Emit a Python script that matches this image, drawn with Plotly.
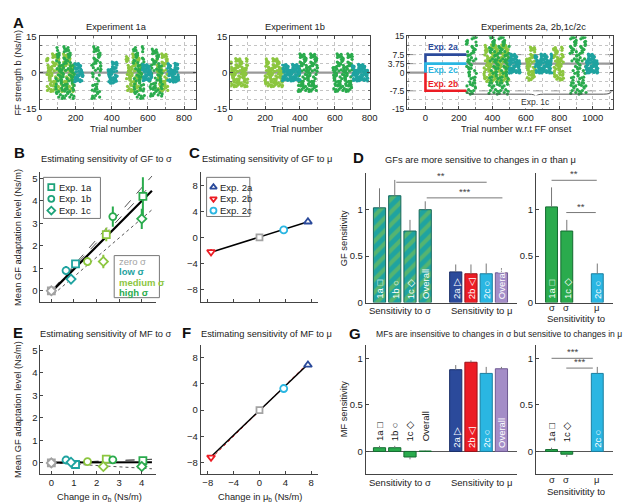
import plotly.graph_objects as go

W, H = 640, 503
FONT = "Arial, Liberation Sans, Helvetica, sans-serif"

GREEN = "#2aab4d"
LGREEN = "#8cc63f"
TEAL = "#1fa3a0"
GRAY = "#a3a3a3"
BLUE = "#2b4a9b"
RED = "#ec1c24"
CYAN = "#2ab6e2"
PURPLE = "#a48dc7"
LEVEL_COLOR = {"z": GRAY, "l": TEAL, "m": LGREEN, "h": GREEN}

# ---------------- Panel A: blocks of trials ----------------
NOISE = [0.62, -0.35, 0.91, -0.78, 0.13, -0.05, 0.47, -0.92, 0.28, -0.61, 0.84, -0.17, 0.55,
         -0.43, 0.07, -0.88, 0.36, 0.71, -0.26, -0.69, 0.95, -0.12, 0.19, -0.53, 0.66, -0.97,
         0.41, -0.31, 0.02, 0.79, -0.74, 0.24, -0.48, 0.88, -0.09, -0.58, 0.51, 0.15, -0.83,
         0.33, -0.22, 0.74, -0.66, 0.09, 0.58, -0.39, -0.95, 0.45, 0.27, -0.15, 0.82, -0.71,
         0.11, -0.45, 0.69, -0.28, 0.98, -0.62, 0.38, -0.02, -0.86]

A1_START = [40, 90, 195, 290, 380, 480, 520, 570, 610, 650, 710]
A1_END = [190, 195, 240, 340, 430, 560, 580, 620, 680, 710, 770]
A1_LEVEL = ["m", "h", "l", "h", "l", "m", "h", "l", "h", "m", "l"]
A1_HALF = [8, 11, 4, 11, 4.5, 8, 11, 3.5, 10, 8, 4]
A1_CENTER = 0

A2_START = [0, 200, 300, 390, 590, 700]
A2_END = [100, 300, 400, 500, 700, 790]
A2_LEVEL = ["m", "m", "l", "h", "h", "l"]
A2_HALF = [6, 6, 3.5, 8, 8, 3.5]
A2_CENTER = 0

A3_START = [245, 350, 380, 500, 605, 655, 765, 865, 960]
A3_END = [305, 500, 500, 565, 655, 755, 825, 960, 1030]
A3_LEVEL = ["h", "m", "h", "l", "m", "l", "m", "h", "l"]
A3_HALF = [13, 8, 13, 4, 7, 4, 7, 13, 4]
A3_CENTER = 3.75

A3_ONSET_X = [0, 245]
A3_EXP2A = 7.5
A3_EXP2C = 3.75
A3_EXP2B = -7.5

# ---------------- Panels B / E (sigma experiments) ----------------
LEVELS = ["z", "l", "m", "h"]
EXP1A_SIG = [0, 1.07, 2.43, 4.05]
EXP1A_GF = [0, 1.2, 2.5, 4.2]
EXP1A_GF_ERR = [0, 0.12, 0.3, 0.85]
EXP1A_MF = [0, -0.07, 0.17, 0.1]
EXP1B_SIG = [0, 0.65, 1.6, 2.72]
EXP1B_GF = [0, 0.9, 1.3, 3.3]
EXP1B_GF_ERR = [0, 0.2, 0.2, 0.45]
EXP1B_MF = [0, 0.13, 0.06, 0.14]
EXP1C_SIG = [0, 0.87, 2.3, 4.0]
EXP1C_GF = [0, 0.52, 1.3, 3.2]
EXP1C_GF_ERR = [0, 0.15, 0.3, 0.45]
EXP1C_MF = [0, 0.03, -0.16, -0.16]
MF_ERR = [0, 0.05, 0.06, 0.06]

B_FIT_X = [0.1, 4.45]
B_FIT_Y = [0.05, 4.45]
B_DASH1_Y = [0.1, 5.1]
B_DASH2_Y = [0.1, 4.75]
B_DOT_Y = [-0.15, 3.6]
E_FIT_Y = [0.02, 0.03]
E_DASH_Y = [0.0, 0.16]
E_DOT_Y = [0.0, -0.26]

# ---------------- Panels C / F (mu experiments) ----------------
EXP2_MU = [7.5, -7.5, 3.75]
EXP2_GF = [2.4, -2.25, 1.15]
EXP2_GF_ERR = [0.2, 0.45, 0.15]
EXP2_MF = [6.9, -7.2, 3.3]
EXP2_MF_ERR = [0.3, 0.35, 0.25]
C_FIT_X = [-7.5, 7.5]
C_FIT_Y = [-2.3, 2.4]
F_FIT_Y = [-7.1, 7.0]
F_RED_Y = [-7.4, 7.2]

# ---------------- Panels D / G (bar charts) ----------------
BAR_LABELS = ["1a", "1b", "1c", "Overall", "2a", "2b", "2c", "Overall"]
BAR_POS = [1, 2, 3, 4, 6, 7, 8, 9]
D1_VAL = [1.02, 1.15, 0.77, 1.0, 0.33, 0.31, 0.31, 0.32]
D1_ERR = [0.21, 0.17, 0.12, 0.09, 0.08, 0.10, 0.11, 0.05]
G1_VAL = [0.04, 0.04, -0.06, 0.004, 0.88, 0.96, 0.84, 0.89]
G1_ERR = [0.02, 0.02, 0.025, 0.005, 0.05, 0.02, 0.07, 0.02]
BAR2_LABELS = ["1a", "1c", "2c"]
BAR2_TICKS = ["σ", "σ", "μ"]
BAR2_POS = [1, 2, 4]
D2_VAL = [1.03, 0.77, 0.31]
D2_ERR = [0.21, 0.12, 0.11]
G2_VAL = [0.02, -0.03, 0.84]
G2_ERR = [0.02, 0.03, 0.07]

# ---------------- layout geometry (pixels) ----------------
P = {
    "A1": dict(x=(29, 188), y=(23, 97), xr=(0, 865), yr=(-15, 15)),
    "A2": dict(x=(223, 365), y=(23, 97), xr=(0, 800), yr=(-15, 15)),
    "A3": dict(x=(403, 613), y=(23, 97), xr=(-110, 1124), yr=(-15, 15)),
    "B": dict(x=(30, 148), y=(162, 294), xr=(-0.48, 4.65), yr=(-0.48, 5.26)),
    "C": dict(x=(193, 312), y=(162, 294), xr=(-9.1, 9.0), yr=(-9.9, 10.0)),
    "D1": dict(x=(361, 515), y=(163, 295), xr=(0.1, 10.03), yr=(0, 1.39)),
    "D2": dict(x=(534, 613), y=(163, 295), xr=(-0.03, 5.06), yr=(0, 1.39)),
    "E": dict(x=(30, 148), y=(338, 470), xr=(-0.48, 4.65), yr=(-0.48, 5.26)),
    "F": dict(x=(193, 312), y=(338, 470), xr=(-9.1, 9.0), yr=(-9.7, 10.0)),
    "G1": dict(x=(361, 515), y=(338, 470), xr=(0.1, 10.03), yr=(-0.24, 1.15)),
    "G2": dict(x=(534, 613), y=(338, 470), xr=(-0.03, 5.06), yr=(-0.24, 1.15)),
}
KEYS = list(P.keys())
AXN = {k: i + 1 for i, k in enumerate(KEYS)}


def xa(k):
    return "x" if AXN[k] == 1 else f"x{AXN[k]}"


def ya(k):
    return "y" if AXN[k] == 1 else f"y{AXN[k]}"


def to_data(k, px, py):
    p = P[k]
    x0, x1 = p["x"]
    y0, y1 = p["y"]
    dx = p["xr"][0] + (px - x0) / (x1 - x0) * (p["xr"][1] - p["xr"][0])
    dy = p["yr"][0] + (y1 - py) / (y1 - y0) * (p["yr"][1] - p["yr"][0])
    return dx, dy


fig = go.Figure()
annotations = []
shapes = []


def ann(text, px, py, size=9.5, color="#222", xanchor="center", yanchor="middle", angle=0, bg=None):
    d = dict(text=text, x=px / W, y=1 - py / H, xref="paper", yref="paper", showarrow=False,
             font=dict(size=size, color=color, family=FONT), xanchor=xanchor, yanchor=yanchor,
             textangle=angle)
    if bg:
        d["bgcolor"] = bg
    annotations.append(d)


def pline(x0, y0, x1, y1, color="#666", width=1, dash="solid"):
    shapes.append(dict(type="line", xref="paper", yref="paper", x0=x0 / W, x1=x1 / W,
                       y0=1 - y0 / H, y1=1 - y1 / H, line=dict(color=color, width=width, dash=dash)))


# ---------------- Panel A traces ----------------
def add_cloud(k, starts, ends, levels, halves, center, base_segments):
    for seg in base_segments:
        fig.add_trace(go.Scatter(x=seg[0], y=seg[1], mode="lines", line=dict(color="#999", width=2.2),
                                 xaxis=xa(k), yaxis=ya(k), hoverinfo="skip"))
    pts = {"l": ([], []), "m": ([], []), "h": ([], [])}
    for b, (s, e, lv, hw) in enumerate(zip(starts, ends, levels, halves)):
        for i, t in enumerate(range(s, e + 1)):
            pts[lv][0].append(t)
            pts[lv][1].append(center + hw * NOISE[(i * 17 + b * 23) % len(NOISE)])
    for lv in ["m", "h", "l"]:
        fig.add_trace(go.Scatter(x=pts[lv][0], y=pts[lv][1], mode="markers",
                                 marker=dict(size=3.2, color=LEVEL_COLOR[lv]),
                                 xaxis=xa(k), yaxis=ya(k), hoverinfo="skip"))


add_cloud("A1", A1_START, A1_END, A1_LEVEL, A1_HALF, A1_CENTER, [([0, 865], [0, 0])])
add_cloud("A2", A2_START, A2_END, A2_LEVEL, A2_HALF, A2_CENTER, [([0, 800], [0, 0])])

for lvl in [7.5, 3.75, -7.5]:
    shapes.append(dict(type="line", xref="x3", yref="y3", x0=-110, x1=1124, y0=lvl, y1=lvl,
                       line=dict(color="#888", width=1, dash="dash"), layer="below"))
add_cloud("A3", A3_START, A3_END, A3_LEVEL, A3_HALF, A3_CENTER,
          [([-110, 0], [0, 0]), ([A3_ONSET_X[1], 1124], [A3_CENTER, A3_CENTER])])
for lvl, col in [(A3_EXP2A, BLUE), (A3_EXP2C, CYAN), (A3_EXP2B, RED)]:
    fig.add_trace(go.Scatter(x=[0, 0, A3_ONSET_X[1]], y=[0, lvl, lvl], mode="lines",
                             line=dict(color=col, width=2.6), xaxis="x3", yaxis="y3", hoverinfo="skip"))
# brace for Exp. 1c
shapes.append(dict(type="path", xref="x3", yref="y3",
                   path="M 245,-7.8 Q 245,-8.9 290,-8.9 L 615,-8.9 Q 660,-8.9 660,-10.2 "
                        "Q 660,-8.9 705,-8.9 L 1065,-8.9 Q 1110,-8.9 1110,-7.8",
                   line=dict(color="#555", width=1)))
for txt, yv, col in [("Exp. 2a", 10.6, BLUE), ("Exp. 2c", 1.2, CYAN), ("Exp. 2b", -4.6, RED)]:
    annotations.append(dict(text=f"<b>{txt}</b>", x=105, y=yv, xref="x3", yref="y3", showarrow=False,
                            font=dict(size=8.5, color=col, family=FONT)))
annotations.append(dict(text="Exp. 1c", x=660, y=-12.2, xref="x3", yref="y3", showarrow=False,
                        font=dict(size=8.5, color="#333", family=FONT), bgcolor="white"))

# ---------------- Panels B and E ----------------
EXPS = [("square", EXP1A_SIG, EXP1A_GF, EXP1A_GF_ERR, EXP1A_MF),
        ("circle", EXP1B_SIG, EXP1B_GF, EXP1B_GF_ERR, EXP1B_MF),
        ("diamond", EXP1C_SIG, EXP1C_GF, EXP1C_GF_ERR, EXP1C_MF)]

for k, ys_line in [("B", (B_DASH1_Y, B_DASH2_Y, B_DOT_Y, B_FIT_Y)), ("E", (E_DASH_Y, E_DASH_Y, E_DOT_Y, E_FIT_Y))]:
    d1, d2, dt, fit = ys_line
    fig.add_trace(go.Scatter(x=B_FIT_X, y=d1, mode="lines", line=dict(color="#555", width=1, dash="dash"),
                             xaxis=xa(k), yaxis=ya(k), hoverinfo="skip"))
    fig.add_trace(go.Scatter(x=B_FIT_X, y=d2, mode="lines", line=dict(color="#555", width=1, dash="dash"),
                             xaxis=xa(k), yaxis=ya(k), hoverinfo="skip"))
    fig.add_trace(go.Scatter(x=B_FIT_X, y=dt, mode="lines", line=dict(color="#555", width=1, dash="dot"),
                             xaxis=xa(k), yaxis=ya(k), hoverinfo="skip"))
    fig.add_trace(go.Scatter(x=B_FIT_X, y=fit, mode="lines", line=dict(color="black", width=2.2),
                             xaxis=xa(k), yaxis=ya(k), hoverinfo="skip"))

for sym, sig, gf, gferr, mf in EXPS:
    for j, lv in enumerate(LEVELS):
        col = LEVEL_COLOR[lv]
        for k, yv, ev in [("B", gf[j], gferr[j]), ("E", mf[j], MF_ERR[j])]:
            fig.add_trace(go.Scatter(
                x=[sig[j]], y=[yv], mode="markers",
                marker=dict(symbol=sym, size=7, color="white", line=dict(color=col, width=1.8)),
                error_y=dict(type="data", array=[ev], color=col, thickness=2, width=0, visible=ev > 0),
                xaxis=xa(k), yaxis=ya(k), hoverinfo="skip", cliponaxis=False))

# B legends
NOFILL = "rgba(0,0,0,0)"
shapes.append(dict(type="rect", xref="paper", yref="paper", x0=33 / W, x1=91 / W, y0=1 - 209 / H, y1=1 - 167 / H,
                   line=dict(color="#777", width=1), fillcolor=NOFILL))
for i, (sym, lab) in enumerate([("square", "Exp. 1a"), ("circle", "Exp. 1b"), ("diamond", "Exp. 1c")]):
    py = 177 + 12 * i
    dx, dy = to_data("B", 41, py)
    fig.add_trace(go.Scatter(x=[dx], y=[dy], mode="markers",
                             marker=dict(symbol=sym, size=6, color="white", line=dict(color="#1ea37a", width=1.8)),
                             xaxis="x4", yaxis="y4", hoverinfo="skip", cliponaxis=False))
    ann(lab, 47, py, size=9.5, color="#222", xanchor="left")
shapes.append(dict(type="rect", xref="paper", yref="paper", x0=105 / W, x1=151 / W, y0=1 - 290 / H, y1=1 - 247 / H,
                   line=dict(color="#777", width=1), fillcolor=NOFILL))
for i, (txt, col) in enumerate([("zero σ", GRAY), ("<b>low σ</b>", TEAL), ("<b>medium σ</b>", LGREEN),
                                ("<b>high σ</b>", GREEN)]):
    ann(txt, 108, 253 + 10.7 * i, size=9.5, color=col, xanchor="left")

# ---------------- Panels C and F ----------------
EXP2_SYMS = ["triangle-up", "triangle-down", "circle"]
EXP2_COLS = [BLUE, RED, CYAN]
fig.add_trace(go.Scatter(x=C_FIT_X, y=C_FIT_Y, mode="lines", line=dict(color="black", width=1.5),
                         xaxis="x5", yaxis="y5", hoverinfo="skip"))
fig.add_trace(go.Scatter(x=C_FIT_X, y=F_RED_Y, mode="lines", line=dict(color=RED, width=1, dash="dot"),
                         xaxis="x9", yaxis="y9", hoverinfo="skip"))
fig.add_trace(go.Scatter(x=C_FIT_X, y=F_FIT_Y, mode="lines", line=dict(color="black", width=1.5),
                         xaxis="x9", yaxis="y9", hoverinfo="skip"))
for k in ["C", "F"]:
    fig.add_trace(go.Scatter(x=[0], y=[0], mode="markers",
                             marker=dict(symbol="square", size=6, color="white", line=dict(color=GRAY, width=1.8)),
                             xaxis=xa(k), yaxis=ya(k), hoverinfo="skip"))
for j in range(3):
    for k, yv, ev in [("C", EXP2_GF[j], EXP2_GF_ERR[j]), ("F", EXP2_MF[j], EXP2_MF_ERR[j])]:
        fig.add_trace(go.Scatter(
            x=[EXP2_MU[j]], y=[yv], mode="markers",
            marker=dict(symbol=EXP2_SYMS[j], size=7, color="white", line=dict(color=EXP2_COLS[j], width=1.8)),
            error_y=dict(type="data", array=[ev], color=EXP2_COLS[j], thickness=1.5, width=0),
            xaxis=xa(k), yaxis=ya(k), hoverinfo="skip", cliponaxis=False))
shapes.append(dict(type="rect", xref="paper", yref="paper", x0=199 / W, x1=243 / W, y0=1 - 207 / H, y1=1 - 167 / H,
                   line=dict(color="#777", width=1), fillcolor=NOFILL))
for i, lab in enumerate(["Exp. 2a", "Exp. 2b", "Exp. 2c"]):
    py = 177 + 12 * i
    dx, dy = to_data("C", 206, py)
    fig.add_trace(go.Scatter(x=[dx], y=[dy], mode="markers",
                             marker=dict(symbol=EXP2_SYMS[i], size=6, color="white",
                                         line=dict(color=EXP2_COLS[i], width=1.8)),
                             xaxis="x5", yaxis="y5", hoverinfo="skip", cliponaxis=False))
    ann(lab, 211, py, size=9.5, color="#222", xanchor="left")

# ---------------- Panels D and G ----------------
SIG_COLS = [BLUE, RED, CYAN, PURPLE]
SIG_EDGE = ["#1b2f6a", "#9e1218", "#1a7fa0", "#6f5a92"]
SYM_TXT = {"1a": "□", "1b": "○", "1c": "◇", "2a": "▷", "2b": "◁", "2c": "○", "Overall": ""}


def err_dict(vals, errs, color="#777"):
    up = [e if v >= 0 else 0 for v, e in zip(vals, errs)]
    dn = [e if v < 0 else 0 for v, e in zip(vals, errs)]
    return dict(type="data", symmetric=False, array=up, arrayminus=dn, color=color, thickness=1, width=0)


fig.add_trace(go.Bar(x=BAR_POS[:4], y=D1_VAL[:4], width=0.8,
                     marker=dict(color=TEAL, pattern=dict(shape="/", fgcolor=LGREEN, bgcolor=TEAL, size=9, solidity=0.45),
                                 line=dict(color="#17695c", width=1)),
                     error_y=err_dict(D1_VAL[:4], D1_ERR[:4]), xaxis="x6", yaxis="y6", hoverinfo="skip"))
fig.add_trace(go.Bar(x=BAR_POS[4:], y=D1_VAL[4:], width=0.8,
                     marker=dict(color=SIG_COLS, line=dict(color=SIG_EDGE, width=1)),
                     error_y=err_dict(D1_VAL[4:], D1_ERR[4:]), xaxis="x6", yaxis="y6", hoverinfo="skip"))
fig.add_trace(go.Bar(x=BAR2_POS, y=D2_VAL, width=0.78,
                     marker=dict(color=[GREEN, GREEN, CYAN], line=dict(color=["#136b30", "#136b30", "#1a7fa0"], width=1)),
                     error_y=err_dict(D2_VAL, D2_ERR), xaxis="x7", yaxis="y7", hoverinfo="skip"))
fig.add_trace(go.Bar(x=BAR_POS, y=G1_VAL, width=0.8,
                     marker=dict(color=[GREEN] * 4 + SIG_COLS, line=dict(color=["#136b30"] * 4 + SIG_EDGE, width=1)),
                     error_y=err_dict(G1_VAL, G1_ERR), xaxis="x10", yaxis="y10", hoverinfo="skip"))
fig.add_trace(go.Bar(x=BAR2_POS, y=G2_VAL, width=0.78,
                     marker=dict(color=[GREEN, GREEN, CYAN], line=dict(color=["#136b30", "#136b30", "#1a7fa0"], width=1)),
                     error_y=err_dict(G2_VAL, G2_ERR), xaxis="x11", yaxis="y11", hoverinfo="skip"))


def bar_label(axk, xpos, ybase, lab, color):
    txt = lab if lab == "Overall" else f"{lab} {SYM_TXT[lab]}"
    annotations.append(dict(text=txt, x=xpos, y=ybase, xref=xa(axk), yref=ya(axk), showarrow=False,
                            textangle=-90, yanchor="bottom", xanchor="center",
                            font=dict(size=9.5, color=color, family=FONT)))


for i, lab in enumerate(BAR_LABELS):
    bar_label("D1", BAR_POS[i], 0.02, lab, "white")
    if i < 4:
        bar_label("G1", BAR_POS[i], 0.09, lab, "#111")
    else:
        bar_label("G1", BAR_POS[i], 0.02, lab, "white")
for i, lab in enumerate(BAR2_LABELS):
    bar_label("D2", BAR2_POS[i], 0.02, lab, "white")
    if i < 2:
        bar_label("G2", BAR2_POS[i], 0.08, lab, "#111")
    else:
        bar_label("G2", BAR2_POS[i], 0.02, lab, "white")

# significance lines
for x0, x1, yl, st in [(392, 484, 172, "**"), (423, 500, 188, "***"), (550, 596, 170, "**"),
                       (565, 595, 203, "**"), (550, 592, 352, "***"), (565, 592, 362, "***")]:
    pline(x0, yl, x1, yl, color="#777", width=1)
    ann(st, (x0 + x1) / 2, yl + 1, size=9.5, color="#444", yanchor="bottom")

# category texts
ann("Sensitivity to σ", 396, 303)
ann("Sensitivity to μ", 479, 303)
ann("Sensitivity to σ", 396, 479)
ann("Sensitivity to μ", 479, 479)
for (px, t) in zip([550, 565, 596], BAR2_TICKS):
    ann(t, px, 300)
    ann(t, px, 476)
ann("Sensitivitity to", 575, 311)
ann("Sensitivitity to", 575, 488)

# ---------------- titles and labels ----------------
TS = 9.3
ann("Experiment 1a", 107, 13, size=TS)
ann("Experiment 1b", 289, 13, size=TS)
ann("Experiments 2a, 2b,1c/2c", 532, 13, size=TS)
ann("Trial number", 107, 118, size=TS)
ann("Trial number", 291, 118, size=TS)
ann("Trial number w.r.t FF onset", 514, 118, size=TS)
ann("FF strength b (Ns/m)", 7, 60, size=TS, angle=-90)
ann("Estimating sensitivity of GF to σ", 97, 148, size=TS)
ann("Estimating sensitivity of GF to μ", 260, 148, size=TS)
ann("GFs are more sensitive to changes in σ than μ", 478, 149, size=TS)
ann("Estimating sensitivity of MF to σ", 97, 327, size=TS)
ann("Estimating sensitivity of MF to μ", 260, 327, size=TS)
ann("MFs are insensitive to changes in σ but sensitive to changes in μ", 497, 327, size=8.6)
ann("Mean GF adaptation level (Ns/m)", 7, 228, size=TS, angle=-90)
ann("Mean GF adaptation level (Ns/m)", 7, 404, size=TS, angle=-90)
ann("GF sensitivity", 339, 229, size=TS, angle=-90)
ann("MF sensitivity", 339, 404, size=TS, angle=-90)
ann("Change in σ<sub>b</sub> (Ns/m)", 90, 494, size=TS)
ann("Change in μ<sub>b</sub> (Ns/m)", 253, 494, size=TS)
for lab, px, py in [("A", 8, 9), ("B", 9, 142), ("C", 187, 142), ("D", 354, 147),
                    ("E", 7, 326), ("F", 179, 326), ("G", 350, 327)]:
    ann(f"<b>{lab}</b>", px, py, size=15, color="#111")

# ---------------- axes ----------------
layout_axes = {}
TICKF = dict(size=9.5, color="#222", family=FONT)
for k in KEYS:
    n = AXN[k]
    p = P[k]
    xn = "xaxis" if n == 1 else f"xaxis{n}"
    yn = "yaxis" if n == 1 else f"yaxis{n}"
    xd = dict(domain=[p["x"][0] / W, p["x"][1] / W], range=list(p["xr"]), anchor=ya(k),
              showgrid=False, zeroline=False, showline=True, linecolor="#444", linewidth=1,
              ticks="inside", ticklen=3, tickcolor="#444", tickfont=TICKF, fixedrange=True)
    yd = dict(domain=[1 - p["y"][1] / H, 1 - p["y"][0] / H], range=list(p["yr"]), anchor=xa(k),
              showgrid=False, zeroline=False, showline=True, linecolor="#444", linewidth=1,
              ticks="inside", ticklen=3, tickcolor="#444", tickfont=TICKF, fixedrange=True)
    if k.startswith("A"):
        grid = dict(showgrid=True, gridcolor="#c4c4c4", griddash="dot", gridwidth=1)
        xd.update(mirror="ticks", **grid,
                  tickvals=[0, 200, 400, 600, 800, 1000] if k == "A3" else [0, 200, 400, 600, 800],
                  minor=dict(dtick=100, tick0=0, showgrid=True, gridcolor="#c4c4c4", griddash="dot",
                             ticks="inside", ticklen=2, tickcolor="#666"))
        yd.update(mirror="ticks", **grid,
                  minor=dict(dtick=3.75, tick0=0, showgrid=True, gridcolor="#c4c4c4", griddash="dot",
                             ticks="inside", ticklen=2, tickcolor="#666"))
        if k == "A3":
            yd.update(tickvals=[-15, -7.5, 0, 3.75, 7.5, 15],
                      ticktext=["-15", "-7.5", "0", "3.75", "7.5", "15"],
                      tickfont=dict(size=8.5, color="#222", family=FONT))
        else:
            yd.update(tickvals=[-15, 0, 15], ticktext=["-15", "0", "15"])
    elif k in ("B", "E"):
        xd.update(tickvals=[0, 1, 2, 3, 4], showticklabels=(k == "E"))
        yd.update(tickvals=[0, 1, 2, 3, 4, 5])
    elif k in ("C", "F"):
        xd.update(tickvals=[-8, -4, 0, 4, 8], showticklabels=(k == "F"))
        yd.update(tickvals=[-8, -4, 0, 4, 8])
    else:
        xd.update(ticks="", showticklabels=False)
        yd.update(tickvals=[0, 0.5, 1], ticktext=["0", "0.5", "1"])
        if k.startswith("G"):
            yd.update(zeroline=True, zerolinecolor="#555", zerolinewidth=1)
    layout_axes[xn] = xd
    layout_axes[yn] = yd

fig.update_layout(
    width=W, height=H, margin=dict(l=0, r=0, t=0, b=0),
    paper_bgcolor="white", plot_bgcolor="white", showlegend=False,
    barmode="overlay", font=dict(family=FONT, size=9.5, color="#222"),
    annotations=annotations, shapes=shapes, **layout_axes)

fig.write_html("out.html")
